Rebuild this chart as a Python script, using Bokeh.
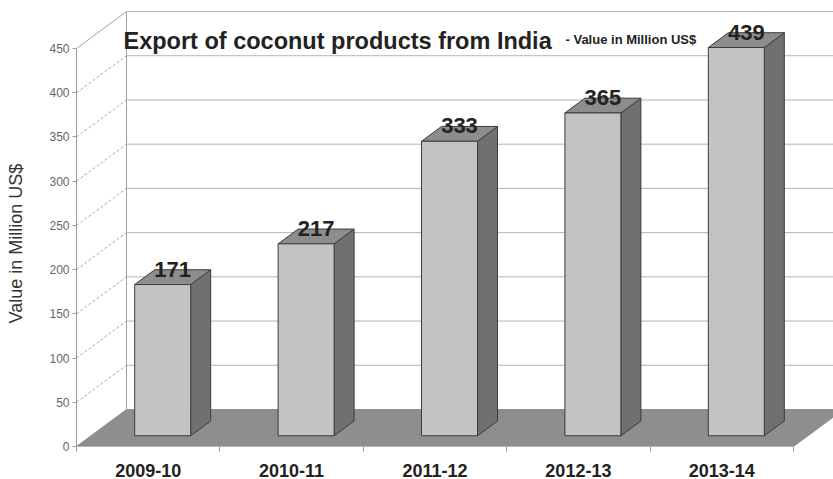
import numpy as np
from bokeh.plotting import figure
from bokeh.models import Range1d, FixedTicker, Label, ColumnDataSource, Title
from bokeh.core.properties import value
from bokeh.embed import file_html
from bokeh.resources import INLINE

# ---------------- data ----------------
categories = ["2009-10", "2010-11", "2011-12", "2012-13", "2013-14"]
values = [171, 217, 333, 365, 439]
y_ticks = [0, 50, 100, 150, 200, 250, 300, 350, 400, 450]
title_text = "Export of coconut products from India"
subtitle_text = "- Value in Million US$"
y_axis_title = "Value in Million US$"

# ---------------- layout / style ----------------
W, H = 833, 479
LEFT, TOP, BOTTOM = 76, 4, 33
CAT_PX = 143.4          # pixels per category
VAL_PX = 0.8844         # pixels per value unit
DEPTH_PX = (50, 37)     # 3D depth offset in pixels
BAR_PX = 56             # bar width in pixels
F0, F1 = 0.29, 0.69     # bar front/back depth fraction
FONT = "Liberation Sans"

n = len(categories)
frame_w = W - LEFT
frame_h = H - TOP - BOTTOM
x_end = frame_w / CAT_PX
y_end = frame_h / VAL_PX
DX = DEPTH_PX[0] / CAT_PX
DY = DEPTH_PX[1] / VAL_PX
y_max = y_ticks[-1]


def px_x(px):
    return (px - LEFT) / CAT_PX


def px_y(py):
    return (H - BOTTOM - py) / VAL_PX


p = figure(width=W, height=H, x_range=Range1d(0, x_end), y_range=Range1d(0, y_end),
           output_backend="svg", toolbar_location=None,
           min_border_left=LEFT, min_border_right=0, min_border_top=TOP,
           min_border_bottom=BOTTOM)
p.outline_line_color = None
p.xgrid.visible = False
p.ygrid.visible = False
p.background_fill_color = "white"
p.border_fill_color = "white"

yt = np.array(y_ticks, dtype=float)

# side wall lines
side = yt[1:-1]
p.segment(x0=np.zeros_like(side), y0=side, x1=np.full_like(side, DX), y1=side + DY,
          line_color="#a8a8a8", line_width=1, line_dash="3 2")
p.segment(x0=[0], y0=[y_max], x1=[DX], y1=[y_max + DY], line_color="#a0a0a0", line_width=1)

# back wall grid lines
back = yt[1:]
p.segment(x0=np.full_like(back, DX), y0=back + DY, x1=np.full_like(back, x_end), y1=back + DY,
          line_color="#b4b4b4", line_width=1)
p.segment(x0=[DX], y0=[DY], x1=[DX], y1=[y_max + DY], line_color="#a0a0a0", line_width=1)

# floor
p.patch(x=[0, n, n + DX, DX], y=[0, 0, DY, DY], fill_color="#8e8e8e", line_color="#8e8e8e")

# bars
v = np.array(values, dtype=float)
cx = np.arange(n) + 0.5
bw = BAR_PX / CAT_PX
x0 = cx - bw / 2 + F0 * DX
x1 = x0 + bw
yb = F0 * DY
ytop = yb + v
ddx = (F1 - F0) * DX
ddy = (F1 - F0) * DY

side_xs = [[a, a + ddx, a + ddx, a] for a in x1]
side_ys = [[yb, yb + ddy, t + ddy, t] for t in ytop]
p.patches(xs=side_xs, ys=side_ys, fill_color="#707070", line_color="#3c3c3c", line_width=1)

top_xs = [[a, b, b + ddx, a + ddx] for a, b in zip(x0, x1)]
top_ys = [[t, t, t + ddy, t + ddy] for t in ytop]
p.patches(xs=top_xs, ys=top_ys, fill_color="#8d8d8d", line_color="#3c3c3c", line_width=1)

p.quad(left=x0, right=x1, bottom=np.full_like(v, yb), top=ytop,
       fill_color="#c3c3c3", line_color="#3c3c3c", line_width=1)

# value labels
lab_src = ColumnDataSource(dict(x=cx + (F0 + F1) / 2 * DX, y=ytop + ddy / 2,
                                t=[str(int(a)) for a in values]))
p.text(x="x", y="y", text="t", source=lab_src, text_align="center", text_baseline="middle",
       y_offset=-8, text_font=value(FONT), text_font_style="bold", text_font_size="22px",
       text_color="#222222")

# axes
p.yaxis.ticker = FixedTicker(ticks=y_ticks)
p.yaxis.bounds = (0, y_max)
p.yaxis.major_tick_out = 4
p.yaxis.major_tick_in = 0
p.yaxis.minor_tick_out = 0
p.yaxis.minor_tick_in = 0
p.yaxis.axis_line_color = "#9a9a9a"
p.yaxis.major_tick_line_color = "#9a9a9a"
p.yaxis.major_label_text_font = FONT
p.yaxis.major_label_text_font_size = "12px"
p.yaxis.major_label_text_color = "#666666"
p.yaxis.major_label_standoff = 3
# blank axis label used only as a spacer so the side title sits at the far left
p.yaxis.axis_label = " "
p.yaxis.axis_label_text_font_size = "10px"
p.yaxis.axis_label_standoff = 5

p.xaxis.ticker = FixedTicker(ticks=list(cx), minor_ticks=list(range(n + 1)))
p.xaxis.major_label_overrides = {float(c): lab for c, lab in zip(cx, categories)}
p.xaxis.bounds = (0, n)
p.xaxis.major_tick_out = 0
p.xaxis.major_tick_in = 0
p.xaxis.minor_tick_out = 5
p.xaxis.minor_tick_in = 0
p.xaxis.minor_tick_line_color = "#9a9a9a"
p.xaxis.axis_line_color = "#b0b0b0"
p.xaxis.major_label_text_font = FONT
p.xaxis.major_label_text_font_style = "bold"
p.xaxis.major_label_text_font_size = "18px"
p.xaxis.major_label_text_color = "#222222"
p.xaxis.major_label_standoff = 12

# y axis title (left-side title, starting 123 px above the frame bottom)
p.add_layout(Title(text=y_axis_title, align="left", offset=123, standoff=4,
                   text_font=FONT, text_font_style="normal", text_font_size="18px",
                   text_color="#333333"), "left")

# chart title inside the back wall
p.add_layout(Label(x=px_x(123), y=px_y(40), text=title_text, text_align="left",
                   text_baseline="alphabetic", text_font=FONT, text_font_style="bold",
                   text_font_size="23.5px", text_color="#222222"))
p.add_layout(Label(x=px_x(565), y=px_y(39), text=subtitle_text, text_align="left",
                   text_baseline="alphabetic", text_font=FONT, text_font_style="bold",
                   text_font_size="13px", text_color="#222222"))

open("out.html", "w").write(file_html(p, INLINE))
